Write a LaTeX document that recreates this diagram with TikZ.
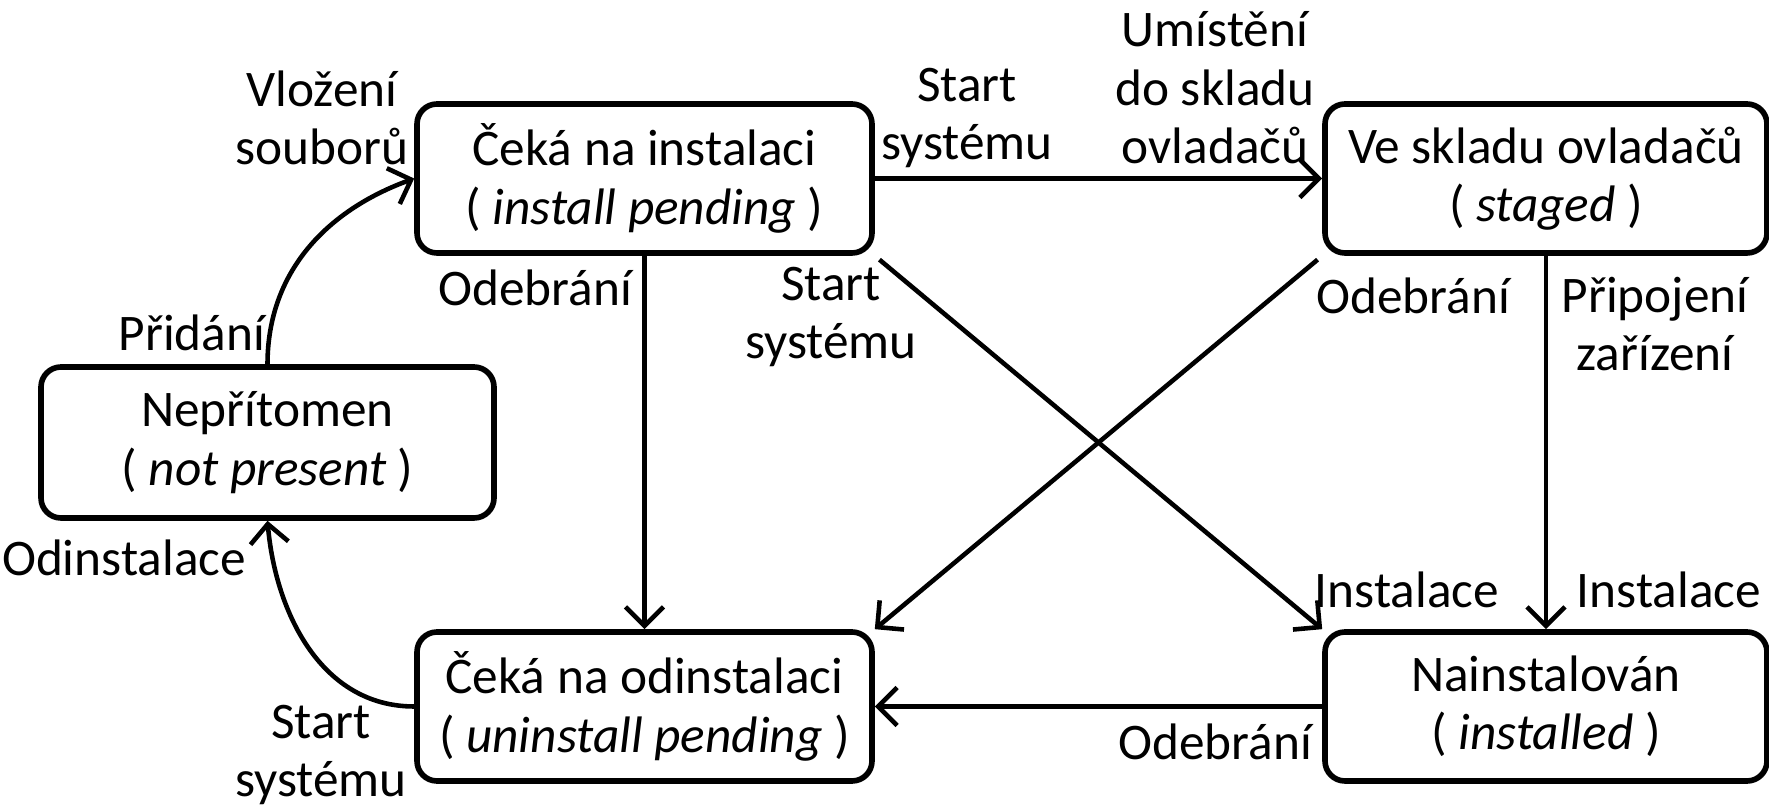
\documentclass[tikz,border=0pt]{standalone}
\usepackage{fontspec}
\setmainfont{Carlito}
\usetikzlibrary{arrows.meta}
\tikzset{
  statebox/.style={draw, line width=1.6pt, rounded corners=0.2cm, align=center,
    inner sep=0pt, minimum height=1.49cm},
  transarrow/.style={line width=1.3pt, -{Straight Barb[length=1.9mm,width=3.8mm,line width=1.3pt]}},
  lbl/.style={align=center, inner sep=0pt}
}
\begin{document}
\begin{tikzpicture}[font=\fontsize{14.6}{16.6}\selectfont]
  \useasboundingbox (0,0) rectangle (17.69,8.08);
  % states
  \node[statebox, minimum width=4.55cm] (pending) at (6.445, 6.295) {Čeká na instalaci\\( \textit{install pending} )};
  \node[statebox, minimum width=4.42cm] (staged) at (15.46, 6.295) {Ve skladu ovladačů\\( \textit{staged} )};
  \node[statebox, minimum width=4.53cm, minimum height=1.51cm] (notpresent) at (2.675, 3.655) {Nepřítomen\\( \textit{not present} )};
  \node[statebox, minimum width=4.55cm] (unpending) at (6.445, 1.015) {Čeká na odinstalaci\\( \textit{uninstall pending} )};
  \node[statebox, minimum width=4.42cm] (installed) at (15.46, 1.015) {Nainstalován\\( \textit{installed} )};
  % transitions
  \draw[transarrow] (pending) -- (staged);
  \draw[transarrow] (pending) -- (unpending);
  \draw[transarrow, shorten <=0.06cm] (pending.south east) -- (installed.north west);
  \draw[transarrow, shorten <=0.06cm] (staged.south west) -- (unpending.north east);
  \draw[transarrow] (staged) -- (installed);
  \draw[transarrow] (installed) -- (unpending);
  \draw[transarrow] (notpresent.north) to[out=90, in=200] (pending.west);
  \draw[transarrow] (unpending.west) to[out=180, in=-85] (notpresent.south);
  % labels
  \node[lbl] (l1) at (3.22, 6.9) {Vložení\\souborů};
  \node[lbl] (l2) at (1.92, 4.75) {Přidání};
  \node[lbl] (l3) at (9.67, 6.9) {Start\\systému};
  \node[lbl] (l4) at (12.15, 7.2) {Umístění\\do skladu\\ovladačů};
  \node[lbl] (l5) at (5.35, 5.2) {Odebrání};
  \node[lbl] (l6) at (8.31, 4.91) {Start\\systému};
  \node[lbl] (l7) at (14.13, 5.12) {Odebrání};
  \node[lbl] (l8) at (16.55, 4.84) {Připojení\\zařízení};
  \node[lbl] (l9) at (14.07, 2.18) {Instalace};
  \node[lbl] (l10) at (16.69, 2.18) {Instalace};
  \node[lbl] (l11) at (12.15, 0.66) {Odebrání};
  \node[lbl] (l12) at (1.24, 2.5) {Odinstalace};
  \node[lbl] (l13) at (3.21, 0.53) {Start\\systému};
\end{tikzpicture}
\end{document}
